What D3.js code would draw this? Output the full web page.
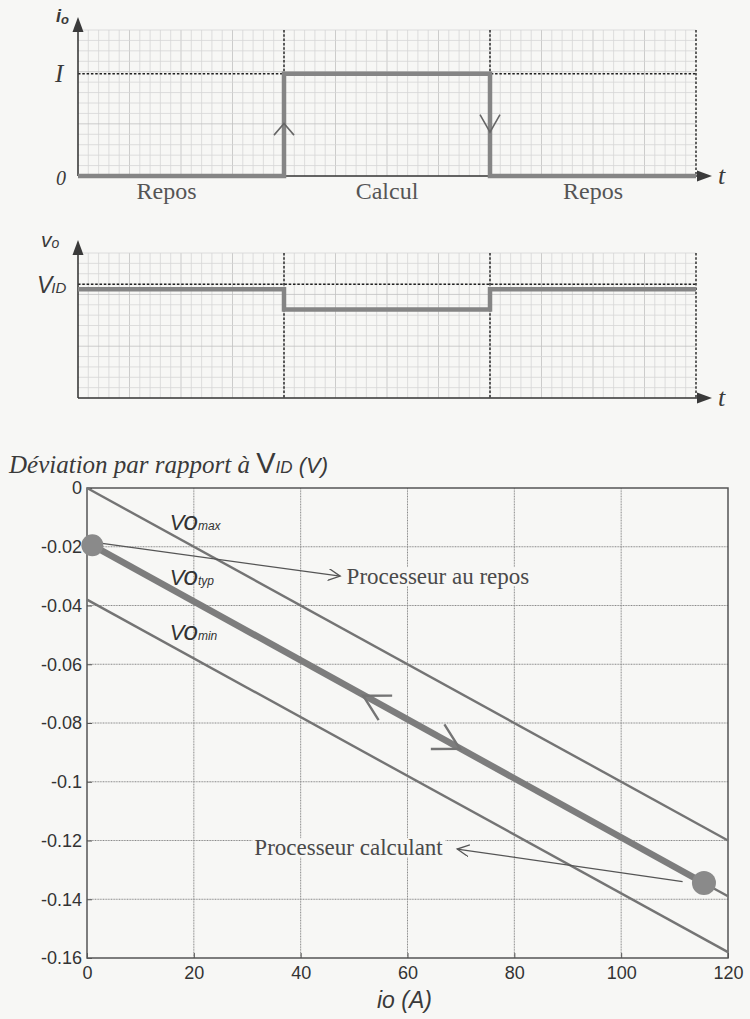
<!DOCTYPE html>
<html>
<head>
<meta charset="utf-8">
<script src="https://cdn.jsdelivr.net/npm/d3@7"></script>
<style>
  body { margin: 0; background: #f7f7f5; }
  svg { display: block; }
</style>
</head>
<body>
<svg id="chart" width="750" height="1019"></svg>
<script>
// ---- top two timing diagrams (arbitrary units, 3 phases) ----
var phaseNames = ["Repos", "Calcul", "Repos"];
var phaseLabelPos = [0.43, 1.5, 2.5];
var phaseBounds = [0, 1, 2, 3];
var ioLevels = [0, 0.7, 0, 0];
var voLevels = [0.75, 0.61, 0.75, 0.75];
var levelI = 0.7;
var levelVID = 0.785;

// ---- bottom chart : deviation vs current ----
var ioAmps = [0, 120];
var voMax = [0, -0.12];
var voTyp = [-0.019, -0.139];
var voMin = [-0.038, -0.158];
var opPoints = [{io: 1, v: -0.0195}, {io: 115.5, v: -0.1345}];
var xTicks = [0, 20, 40, 60, 80, 100, 120];
var yTicks = [0, -0.02, -0.04, -0.06, -0.08, -0.1, -0.12, -0.14, -0.16];
var voLabels = [
    {sub: "max", io: 15.5, v: -0.0143},
    {sub: "typ", io: 15.5, v: -0.0330},
    {sub: "min", io: 15.5, v: -0.0517}
];
var dirArrows = [{io: 51.7, dir: -1}, {io: 69.8, dir: 1}];
var notes = [
    {text: "Processeur au repos", from: [2.5, -0.0188], to: [47.4, -0.0300], anchor: "start", tx: 48.6, ty: -0.0327},
    {text: "Processeur calculant", from: [111.5, -0.1340], to: [69.3, -0.1229], anchor: "end", tx: 66.6, ty: -0.1250}
];

var svg = d3.select("#chart");
var ink = "#3a3a3a";
var serif = "'Liberation Serif', 'Times New Roman', serif";
var sans = "'Liberation Sans', Arial, sans-serif";

svg.append("defs").append("marker")
    .attr("id", "open")
    .attr("markerUnits", "userSpaceOnUse")
    .attr("markerWidth", 14).attr("markerHeight", 14)
    .attr("refX", 12).attr("refY", 6)
    .attr("orient", "auto")
    .append("path")
    .attr("d", "M0,0L12,6L0,12")
    .attr("fill", "none").attr("stroke", "#555").attr("stroke-width", 1.3);

var xT = d3.scaleLinear().domain([0, 3]).range([78, 696]);

function timing(top, bottom, levels, refLevel) {
    var y = d3.scaleLinear().domain([0, 1]).range([bottom, top]);
    var g = svg.append("g");

    // fine graph paper grid
    g.append("g").selectAll("line").data(d3.range(1, 60))
        .join("line")
        .attr("x1", function(d) { return xT(d / 20); }).attr("x2", function(d) { return xT(d / 20); })
        .attr("y1", y(1)).attr("y2", y(0))
        .attr("stroke", function(d) { return d % 5 == 0 ? "#c0c0c0" : "#d6d6d6"; })
        .attr("stroke-width", 0.8);
    g.append("g").selectAll("line").data(d3.range(0, 15))
        .join("line")
        .attr("x1", xT(0)).attr("x2", xT(3))
        .attr("y1", function(d) { return y(d / 14); }).attr("y2", function(d) { return y(d / 14); })
        .attr("stroke", function(d) { return d % 5 == 0 ? "#c0c0c0" : "#d6d6d6"; })
        .attr("stroke-width", 0.8);

    // dotted reference lines
    g.append("line")
        .attr("x1", xT(0)).attr("x2", xT(3))
        .attr("y1", y(refLevel)).attr("y2", y(refLevel))
        .attr("stroke", "#222").attr("stroke-width", 1.4).attr("stroke-dasharray", "2.5,1.8");
    g.append("g").selectAll("line").data(phaseBounds.slice(1))
        .join("line")
        .attr("x1", function(d) { return xT(d); }).attr("x2", function(d) { return xT(d); })
        .attr("y1", y(1)).attr("y2", y(0))
        .attr("stroke", "#222").attr("stroke-width", 1.4).attr("stroke-dasharray", "2.5,1.8");

    // axes with arrow heads
    g.append("line").attr("x1", xT(0)).attr("x2", 703).attr("y1", y(0)).attr("y2", y(0))
        .attr("stroke", ink).attr("stroke-width", 1.6);
    g.append("line").attr("x1", xT(0)).attr("x2", xT(0)).attr("y1", y(0)).attr("y2", top - 6)
        .attr("stroke", ink).attr("stroke-width", 1.6);
    g.append("path").attr("d", "M712," + y(0) + "l-15,-5.5l0,11z").attr("fill", ink);
    g.append("path").attr("d", "M" + xT(0) + "," + (top - 13) + "l-5.5,15l11,0z").attr("fill", ink);

    // waveform
    var line = d3.line()
        .x(function(d, i) { return xT(phaseBounds[i]); })
        .y(function(d) { return y(d); })
        .curve(d3.curveStepAfter);
    g.append("path").datum(levels)
        .attr("d", line)
        .attr("fill", "none").attr("stroke", "#858585").attr("stroke-width", 4.5);

    // t label
    g.append("text").attr("x", 718).attr("y", y(0) + 8)
        .attr("font-family", serif).attr("font-style", "italic").attr("font-size", 26)
        .attr("fill", ink).text("t");
    return y;
}

// ---- io(t) ----
var yIo = timing(30, 176, ioLevels, levelI);
var io = svg.append("g");
io.append("text").attr("x", 55).attr("y", 82)
    .attr("font-family", serif).attr("font-style", "italic").attr("font-size", 25)
    .attr("fill", ink).text("I");
io.append("text").attr("x", 56).attr("y", 185)
    .attr("font-family", serif).attr("font-style", "italic").attr("font-size", 20)
    .attr("fill", ink).text("0");
var ioT = io.append("text").attr("x", 56).attr("y", 22)
    .attr("font-family", sans).attr("font-style", "italic").attr("font-weight", "bold")
    .attr("fill", ink);
ioT.append("tspan").attr("font-size", 18).text("i");
ioT.append("tspan").attr("font-size", 13).attr("dy", 2).text("o");
io.selectAll("text.phase").data(phaseNames)
    .join("text").attr("class", "phase")
    .attr("x", function(d, i) { return xT(phaseLabelPos[i]); })
    .attr("y", 199)
    .attr("text-anchor", "middle")
    .attr("font-family", serif).attr("font-size", 24).attr("fill", "#555")
    .text(function(d) { return d; });
// direction chevrons on edges
io.append("path")
    .attr("d", "M" + (xT(1) - 10) + "," + yIo(0.28) + "L" + xT(1) + "," + yIo(0.36) + "L" + (xT(1) + 10) + "," + yIo(0.28))
    .attr("fill", "none").attr("stroke", "#666").attr("stroke-width", 1.6);
io.append("path")
    .attr("d", "M" + (xT(2) - 10) + "," + yIo(0.42) + "L" + xT(2) + "," + yIo(0.30) + "L" + (xT(2) + 10) + "," + yIo(0.42))
    .attr("fill", "none").attr("stroke", "#666").attr("stroke-width", 1.6);

// ---- vo(t) ----
var yVo = timing(253, 398, voLevels, levelVID);
var vo = svg.append("g");
var voT = vo.append("text").attr("x", 41).attr("y", 247)
    .attr("font-family", sans).attr("font-style", "italic").attr("fill", ink);
voT.append("tspan").attr("font-size", 21).text("v");
voT.append("tspan").attr("font-size", 14).attr("dy", 1).text("o");
var vidT = vo.append("text").attr("x", 37).attr("y", yVo(levelVID) + 9)
    .attr("font-family", sans).attr("font-style", "italic").attr("fill", ink);
vidT.append("tspan").attr("font-size", 23).text("V");
vidT.append("tspan").attr("font-size", 15).attr("dx", -1).text("ID");

// ---- bottom chart ----
var x = d3.scaleLinear().domain([0, 120]).range([87, 728]);
var y = d3.scaleLinear().domain([0, -0.16]).range([488, 958]);
var b = svg.append("g");

var title = b.append("text").attr("x", 9).attr("y", 473).attr("fill", ink);
title.append("tspan").attr("font-family", serif).attr("font-style", "italic").attr("font-size", 25)
    .text("Déviation par rapport à ");
title.append("tspan").attr("font-family", sans).attr("font-size", 29).text("V");
title.append("tspan").attr("font-family", sans).attr("font-style", "italic").attr("font-size", 17).text("ID");
title.append("tspan").attr("font-family", sans).attr("font-style", "italic").attr("font-size", 22).text(" (V)");

// grid
b.append("g").selectAll("line").data(xTicks.slice(1, -1))
    .join("line")
    .attr("x1", function(d) { return x(d); }).attr("x2", function(d) { return x(d); })
    .attr("y1", y(0)).attr("y2", y(-0.16))
    .attr("stroke", "#8a8a8a").attr("stroke-width", 1).attr("stroke-dasharray", "1,0.6");
b.append("g").selectAll("line").data(yTicks.slice(1, -1))
    .join("line")
    .attr("x1", x(0)).attr("x2", x(120))
    .attr("y1", function(d) { return y(d); }).attr("y2", function(d) { return y(d); })
    .attr("stroke", "#8a8a8a").attr("stroke-width", 1).attr("stroke-dasharray", "1,0.6");

// axes
var xAxis = b.append("g").attr("transform", "translate(0," + y(-0.16) + ")")
    .call(d3.axisBottom(x).tickValues(xTicks).tickSize(-5).tickPadding(8).tickFormat(d3.format("d")));
var yAxis = b.append("g").attr("transform", "translate(" + x(0) + ",0)")
    .call(d3.axisLeft(y).tickValues(yTicks).tickSize(-5).tickPadding(5).tickFormat(function(d) { return d == 0 ? "0" : String(+d.toFixed(2)); }));
[xAxis, yAxis].forEach(function(a) {
    a.select(".domain").remove();
    a.selectAll("line").attr("stroke", "#555");
    a.selectAll("text").attr("font-family", sans).attr("font-size", 18).attr("fill", "#333");
});
b.append("rect").attr("x", x(0)).attr("y", y(0))
    .attr("width", x(120) - x(0)).attr("height", y(-0.16) - y(0))
    .attr("fill", "none").attr("stroke", "#555").attr("stroke-width", 1.5);

b.append("text").attr("x", 377).attr("y", 1008)
    .attr("font-family", sans).attr("font-style", "italic").attr("font-size", 23).attr("fill", ink)
    .text("io (A)");

// characteristic lines
var lines = [voMax, voTyp, voMin];
b.append("g").selectAll("line").data(lines)
    .join("line")
    .attr("x1", x(ioAmps[0])).attr("x2", x(ioAmps[1]))
    .attr("y1", function(d) { return y(d[0]); }).attr("y2", function(d) { return y(d[1]); })
    .attr("stroke", "#747474").attr("stroke-width", 2.4);

// operating path
b.append("line")
    .attr("x1", x(opPoints[0].io)).attr("y1", y(opPoints[0].v))
    .attr("x2", x(opPoints[1].io)).attr("y2", y(opPoints[1].v))
    .attr("stroke", "#7d7d7d").attr("stroke-width", 6.5);

// direction chevrons along the operating path
var slope = (voTyp[1] - voTyp[0]) / (ioAmps[1] - ioAmps[0]);
dirArrows.forEach(function(a) {
    var vx = x(a.io), vy = y(voTyp[0] + slope * a.io);
    var dx = x(1) - x(0), dy = y(voTyp[0] + slope) - y(voTyp[0]);
    var len = Math.sqrt(dx * dx + dy * dy);
    var ux = -a.dir * dx / len, uy = -a.dir * dy / len;
    var ang = 29 * Math.PI / 180, L = 29;
    var p1 = [vx + L * (ux * Math.cos(ang) - uy * Math.sin(ang)), vy + L * (ux * Math.sin(ang) + uy * Math.cos(ang))];
    var p2 = [vx + L * (ux * Math.cos(-ang) - uy * Math.sin(-ang)), vy + L * (ux * Math.sin(-ang) + uy * Math.cos(-ang))];
    b.append("path")
        .attr("d", "M" + p1 + "L" + vx + "," + vy + "L" + p2)
        .attr("fill", "none").attr("stroke", "#747474").attr("stroke-width", 2.4);
});

// labels on lines
voLabels.forEach(function(d) {
    var t = b.append("text").attr("x", x(d.io)).attr("y", y(d.v))
        .attr("font-family", sans).attr("font-style", "italic").attr("fill", "#333");
    t.append("tspan").attr("font-size", 22).text("V");
    t.append("tspan").attr("font-size", 26).attr("dx", -1).text("o");
    t.append("tspan").attr("font-size", 12).text(d.sub);
});

// annotations
notes.forEach(function(n) {
    var t = b.append("text").attr("x", x(n.tx)).attr("y", y(n.ty))
        .attr("text-anchor", n.anchor)
        .attr("font-family", serif).attr("font-size", 23).attr("fill", "#4a4a4a")
        .text(n.text);
    var bb = t.node().getBBox();
    b.insert("rect", function() { return t.node(); })
        .attr("x", bb.x - 2).attr("y", bb.y + 3).attr("width", bb.width + 4).attr("height", bb.height - 6)
        .attr("fill", "#f7f7f5");
    b.append("line")
        .attr("x1", x(n.from[0])).attr("y1", y(n.from[1]))
        .attr("x2", x(n.to[0])).attr("y2", y(n.to[1]))
        .attr("stroke", "#555").attr("stroke-width", 1.3)
        .attr("marker-end", "url(#open)");
});

// operating points
b.selectAll("circle").data(opPoints)
    .join("circle")
    .attr("cx", function(d) { return x(d.io); })
    .attr("cy", function(d) { return y(d.v); })
    .attr("r", function(d, i) { return i == 0 ? 11 : 12; })
    .attr("fill", "#8a8a8a");
</script>
</body>
</html>
